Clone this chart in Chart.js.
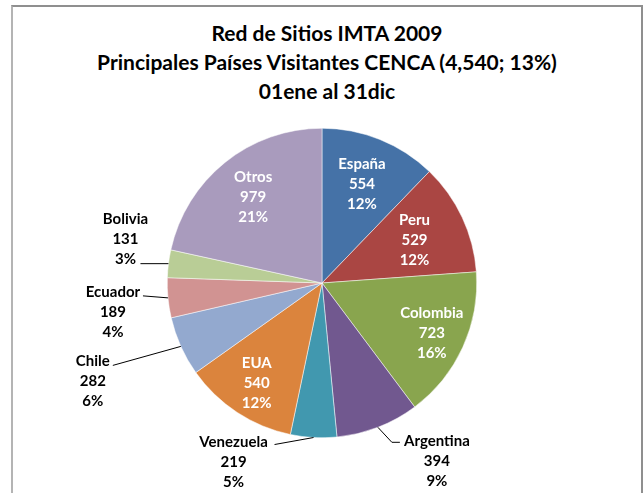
<!DOCTYPE html>
<html>
<head>
<meta charset="utf-8">
<script src="https://cdn.jsdelivr.net/npm/chart.js@4.4.1/dist/chart.umd.min.js"></script>
<style>
  html, body { margin: 0; padding: 0; background: #fff; overflow: hidden; }
  #wrap { position: relative; width: 644px; height: 493px; }
  #frame { position: absolute; left: 11px; top: 5px; width: 628px; height: 600px;
           border: 2px solid #8f8f8f; border-left-color: #b4b4b4; box-sizing: content-box; }
  #title { position: absolute; left: 12px; width: 630px; top: 18px; text-align: center;
           font-family: Lato, "Open Sans", sans-serif; font-weight: bold; font-size: 21px;
           line-height: 29px; color: #000; }
  canvas { position: absolute; left: 0; top: 0; }
</style>
</head>
<body>
<div id="wrap">
  <div id="frame"></div>
  <div id="title">Red de Sitios IMTA 2009<br>Principales Países Visitantes CENCA (4,540; 13%)<br>01ene al 31dic</div>
  <canvas id="c" width="644" height="493"></canvas>
</div>
<script>
// ---- data ----
const categories = ["España", "Peru", "Colombia", "Argentina", "Venezuela", "EUA", "Chile", "Ecuador", "Bolivia", "Otros"];
const visits = [554, 529, 723, 394, 219, 540, 282, 189, 131, 979];
const percentLabels = [12, 12, 16, 9, 5, 12, 6, 4, 3, 21];

// ---- styles ----
const colors = ["#4572A7", "#AA4643", "#89A54E", "#71588F", "#4198AF", "#DB843D", "#93A9CF", "#D19392", "#B9CD96", "#A99BBD"];
// inside labels: radial factor along mid angle
const insideLayout = { "España": 0.69, "Peru": 0.66, "Colombia": 0.78, "EUA": 0.77, "Otros": 0.71 };
// outside labels: offsets from arc edge point (mid angle)
const outsideLayout = {
  "Bolivia":   { leader: [[-28, 0]],             text: [-43, -25] },
  "Ecuador":   { leader: [[-25, -2]],            text: [-55, 14] },
  "Chile":     { leader: [[-68, 19]],            text: [-88, 35] },
  "Venezuela": { leader: [[-39, 7]],             text: [-80, 25] },
  "Argentina": { leader: [[14, 15], [22, 15]],   text: [59, 34] }
};
const LINE = 20;
const FONT = "bold 15px Lato, 'Open Sans', sans-serif";

const labelPlugin = {
  id: 'sliceLabels',
  afterDatasetsDraw(chart) {
    const ctx = chart.ctx;
    const meta = chart.getDatasetMeta(0);
    ctx.save();
    ctx.font = FONT;
    ctx.textAlign = 'center';
    ctx.textBaseline = 'middle';
    meta.data.forEach((arc, i) => {
      const p = arc.getProps(['x', 'y', 'startAngle', 'endAngle', 'outerRadius'], true);
      const mid = (p.startAngle + p.endAngle) / 2;
      const name = categories[i];
      const lines = [name, String(visits[i]), percentLabels[i] + '%'];
      if (insideLayout[name] !== undefined) {
        const f = insideLayout[name];
        const cx = p.x + Math.cos(mid) * p.outerRadius * f;
        const cy = p.y + Math.sin(mid) * p.outerRadius * f;
        ctx.fillStyle = '#fff';
        lines.forEach((t, k) => ctx.fillText(t, cx, cy + (k - 1) * LINE));
      } else if (outsideLayout[name]) {
        const L = outsideLayout[name];
        const ex = p.x + Math.cos(mid) * p.outerRadius;
        const ey = p.y + Math.sin(mid) * p.outerRadius;
        ctx.strokeStyle = '#000';
        ctx.lineWidth = 1;
        ctx.beginPath();
        ctx.moveTo(ex, ey);
        L.leader.forEach(([dx, dy]) => ctx.lineTo(ex + dx, ey + dy));
        ctx.stroke();
        const tx = ex + L.text[0];
        const ty = ey + L.text[1];
        ctx.fillStyle = '#000';
        lines.forEach((t, k) => ctx.fillText(t, tx, ty + (k - 1) * LINE));
      }
    });
    ctx.restore();
  }
};

new Chart(document.getElementById('c'), {
  type: 'pie',
  data: {
    labels: categories,
    datasets: [{
      data: visits,
      backgroundColor: colors,
      borderColor: '#ffffff',
      borderWidth: 0.5
    }]
  },
  options: {
    responsive: false,
    animation: false,
    layout: { padding: { left: 12, right: 12, top: 128, bottom: 55 } },
    plugins: {
      legend: { display: false },
      tooltip: { enabled: false },
      title: { display: false }
    }
  },
  plugins: [labelPlugin]
});
</script>
</body>
</html>
